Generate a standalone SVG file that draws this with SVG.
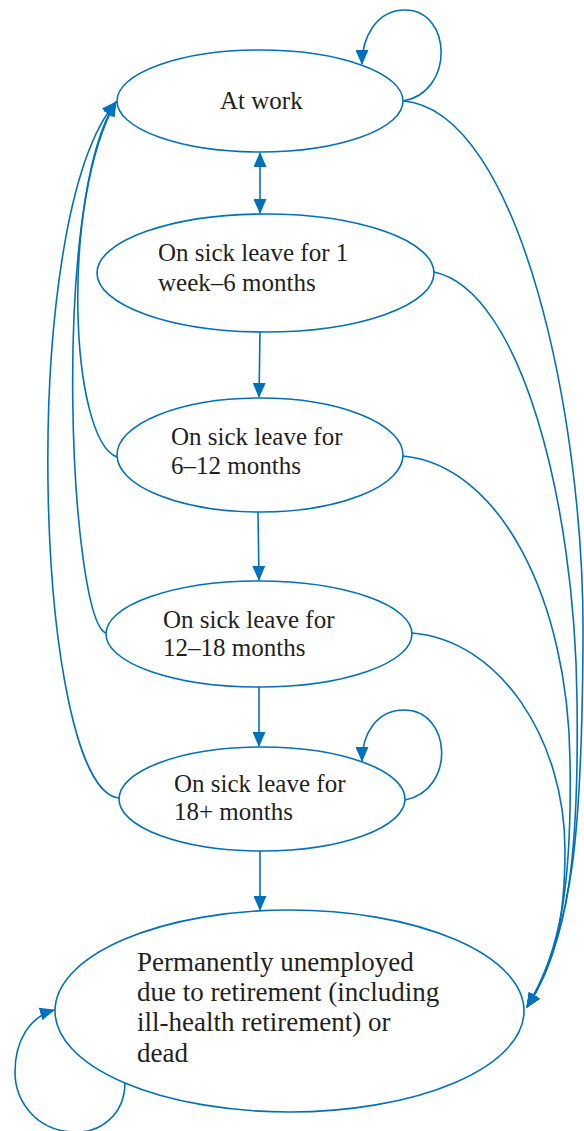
<svg xmlns="http://www.w3.org/2000/svg" width="584" height="1131" viewBox="0 0 584 1131">
  <style>
    .n { fill: #ffffff; stroke: #0071bc; stroke-width: 1.6; }
    .c { fill: none; stroke: #0071bc; stroke-width: 1.6; }
    .t { font-family: "Liberation Serif", "Times New Roman", serif; font-size: 25px; fill: #231f20; }
    .tb { font-family: "Liberation Serif", "Times New Roman", serif; font-size: 27px; fill: #231f20; }
  </style>
  <defs>
    <marker id="ah" viewBox="0 0 15 13" refX="14" refY="6.5" markerWidth="15" markerHeight="13" markerUnits="userSpaceOnUse" orient="auto-start-reverse">
      <path d="M0,0 L15,6.5 L0,13 z" fill="#0071bc"/>
    </marker>
  </defs>
  <rect width="584" height="1131" fill="#ffffff"/>

  <g id="connectors">
    <!-- self loops -->
    <path class="c" d="M403,101 C 455,92 452,10 405,10 C 376,10 362,38 362,64" marker-end="url(#ah)"/>
    <path class="c" d="M405,800 C 456,790 452,710 404,710 C 376,710 362,735 362,761" marker-end="url(#ah)"/>
    <path class="c" d="M125,1082 C 125,1115 100,1134 72,1132 C 35,1130 15,1100 15,1072 C 15,1040 30,1017 54,1010" marker-end="url(#ah)"/>
    <!-- vertical -->
    <path class="c" d="M260,153 L260,213" marker-start="url(#ah)" marker-end="url(#ah)"/>
    <path class="c" d="M260,332 L259,397" marker-end="url(#ah)"/>
    <path class="c" d="M258,512 L259,580" marker-end="url(#ah)"/>
    <path class="c" d="M259,687 L259,746" marker-end="url(#ah)"/>
    <path class="c" d="M260,851 L260,910" marker-end="url(#ah)"/>
    <!-- back to At work -->
    <path class="c" d="M117,457 C 70,440 60,200 116,102" marker-end="url(#ah)"/>
    <path class="c" d="M106,633 C 70,620 50,200 116,102" marker-end="url(#ah)"/>
    <path class="c" d="M119,798 C 35,790 15,220 116,102" marker-end="url(#ah)"/>
    <!-- to permanently unemployed -->
    <path class="c" d="M403,101 C 520,110 585,420 583,640 C 582,820 575,930 527,1007" marker-end="url(#ah)"/>
    <path class="c" d="M434,272 C 520,290 575,500 577,700 C 579,850 570,940 527,1007" marker-end="url(#ah)"/>
    <path class="c" d="M403,456 C 500,465 568,600 570,760 C 572,880 562,950 527,1007" marker-end="url(#ah)"/>
    <path class="c" d="M412,633 C 500,640 565,740 565,850 C 565,920 555,965 527,1007" marker-end="url(#ah)"/>
  </g>

  <g id="n-atwork">
    <ellipse class="n" cx="260" cy="101" rx="143" ry="51"/>
    <text class="t" x="220" y="109">At work</text>
  </g>
  <g id="n-sick1">
    <ellipse class="n" cx="265.5" cy="273" rx="168.5" ry="59"/>
    <text class="t" x="158" y="261">On sick leave for 1</text>
    <text class="t" x="158" y="291">week–6 months</text>
  </g>
  <g id="n-sick2">
    <ellipse class="n" cx="260" cy="455" rx="143" ry="57"/>
    <text class="t" x="171" y="445">On sick leave for</text>
    <text class="t" x="171" y="474">6–12 months</text>
  </g>
  <g id="n-sick3">
    <ellipse class="n" cx="259" cy="634" rx="153" ry="53"/>
    <text class="t" x="163" y="628">On sick leave for</text>
    <text class="t" x="163" y="656">12–18 months</text>
  </g>
  <g id="n-sick4">
    <ellipse class="n" cx="262" cy="799" rx="143" ry="52"/>
    <text class="t" x="174" y="792">On sick leave for</text>
    <text class="t" x="174" y="820">18+ months</text>
  </g>
  <g id="n-perm">
    <ellipse class="n" cx="289.5" cy="1011" rx="234.5" ry="101"/>
    <text class="tb" x="137" y="971">Permanently unemployed</text>
    <text class="tb" x="137" y="1001">due to retirement (including</text>
    <text class="tb" x="137" y="1031">ill-health retirement) or</text>
    <text class="tb" x="137" y="1062">dead</text>
  </g>
</svg>
